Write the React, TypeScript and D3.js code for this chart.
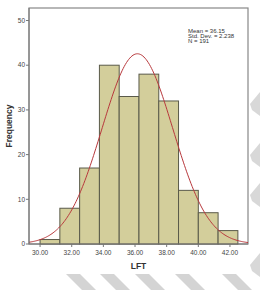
import React from "react";
import * as d3 from "d3";

const binStarts = [30.0, 31.25, 32.5, 33.75, 35.0, 36.25, 37.5, 38.75, 40.0, 41.25];
const binWidth = 1.25;
const counts = [1, 8, 17, 40, 33, 38, 32, 12, 7, 3];
const xTicks = [30, 32, 34, 36, 38, 40, 42];
const yTicks = [0, 10, 20, 30, 40, 50];
const statsLines = ["Mean = 36.15", "Std. Dev. = 2.238", "N = 191"];
const mean = 36.15;
const sd = 2.238;
const n = 191;

const W = 260, H = 290;
const L = 29, R = 248, T = 8, B = 244;

export default function App() {
  const x = d3.scaleLinear().domain([29.3, 43.14]).range([L, R]);
  const y = d3.scaleLinear().domain([0, 52.8]).range([B, T]);
  const pdf = (v: number) =>
    (n * binWidth) / (sd * Math.sqrt(2 * Math.PI)) * Math.exp(-0.5 * ((v - mean) / sd) ** 2);
  const pts = d3.range(0, 201).map((i) => {
    const v = 29.3 + (i / 200) * (43.14 - 29.3);
    return [v, pdf(v)] as [number, number];
  });
  const line = d3.line<[number, number]>().x((d) => x(d[0])).y((d) => y(d[1]));

  // watermark stripes (decorative)
  const bottomStripes = [66, 100, 135, 175, 222];
  const rightStripes = [92, 143, 183, 253];

  return (
    <div style={{ position: "absolute", left: 0, top: 0, width: W, height: H, background: "#fff" }}>
      <svg width={W} height={H} style={{ display: "block" }}
        fontFamily="'Liberation Sans', Arial, sans-serif">
        <defs>
          <clipPath id="plot">
            <rect x={L} y={T} width={R - L} height={B - T} />
          </clipPath>
        </defs>
        {bottomStripes.map((sx, i) => (
          <polygon key={"b" + i} fill="#d4d4d4"
            points={`${sx},274 ${sx + 14},274 ${sx + 30},290 ${sx + 16},290`} />
        ))}
        {rightStripes.map((sy, i) => (
          <polygon key={"r" + i} fill="#d8d8d8"
            points={`250,${sy + 12} 260,${sy} 260,${sy + 24} 252,${sy + 18}`} />
        ))}
        <rect x={L} y={T} width={R - L} height={B - T} fill="#fff" stroke="#888" strokeWidth={1.2} />
        {binStarts.map((s, i) => (
          <rect key={i} x={x(s)} y={y(counts[i])} width={x(s + binWidth) - x(s)} height={B - y(counts[i])}
            fill="#d3ce9b" stroke="#5a5a4a" strokeWidth={1} />
        ))}
        <path d={line(pts) || ""} fill="none" stroke="#b8383c" strokeWidth={1} clipPath="url(#plot)" />
        <line x1={L} x2={L} y1={T} y2={B} stroke="#777" />
        <line x1={L} x2={R} y1={B} y2={B} stroke="#777" />
        {yTicks.map((t) => (
          <g key={t}>
            <line x1={L - 3} x2={L} y1={y(t)} y2={y(t)} stroke="#777" />
            <text x={L - 4} y={y(t)} dy="0.35em" fontSize={6.5} textAnchor="end" fill="#444">{t}</text>
          </g>
        ))}
        {xTicks.map((t) => (
          <g key={t}>
            <line x1={x(t)} x2={x(t)} y1={B} y2={B + 3} stroke="#777" />
            <text x={x(t)} y={B + 11} fontSize={6.5} textAnchor="middle" fill="#444">{t.toFixed(2)}</text>
          </g>
        ))}
        <text x={(L + R) / 2} y={269} fontSize={8.5} fontWeight="bold" textAnchor="middle" fill="#333">LFT</text>
        <text transform={`translate(12,${(T + B) / 2}) rotate(-90)`} fontSize={8.5} fontWeight="bold"
          textAnchor="middle" fill="#333">Frequency</text>
        {statsLines.map((s, i) => (
          <text key={i} x={188} y={33 + i * 5.2} fontSize={6} fill="#333">{s}</text>
        ))}
      </svg>
    </div>
  );
}
